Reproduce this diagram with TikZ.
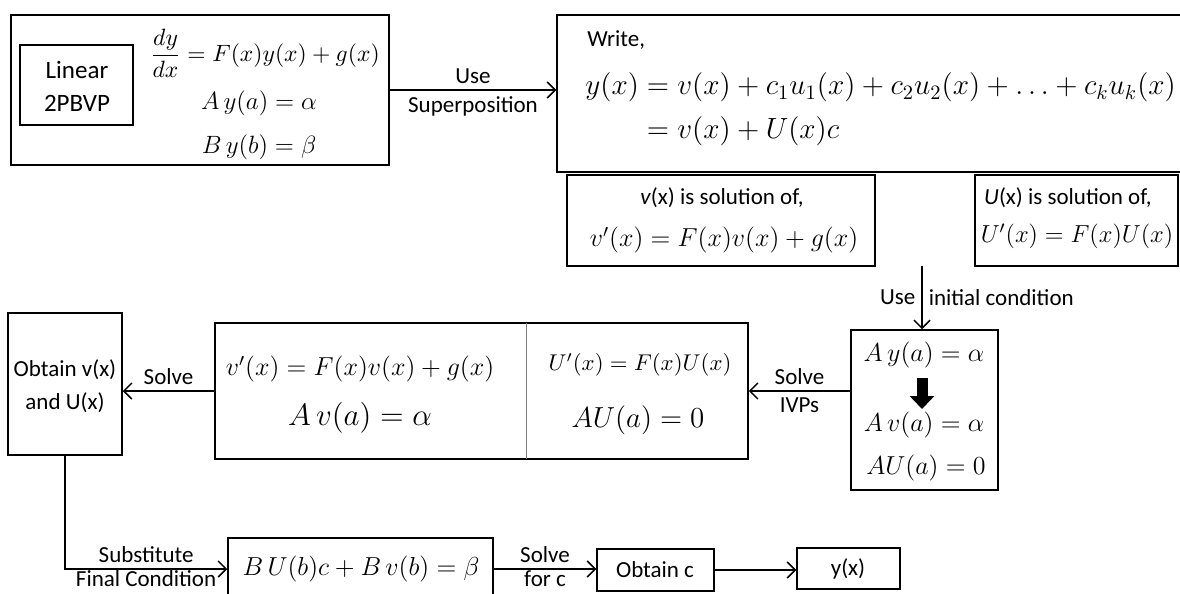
\documentclass[tikz,border=0pt]{standalone}
\usepackage{fix-cm}
\usepackage{amsmath}
\usepackage[no-math]{fontspec}
\setmainfont{Carlito}
\usetikzlibrary{positioning,arrows.meta,fit}
\newcommand{\txtsize}{\fontsize{11.5pt}{16.5pt}\selectfont}
\tikzset{
  box/.style  ={draw, line width=0.75pt, inner sep=0pt},
  txt/.style  ={font=\txtsize, align=center, inner sep=0pt},
  eq/.style   ={inner sep=0pt, font=\fontsize{#1}{#1}\selectfont},
  eq/.default =13pt,
  lbl/.style  ={font=\txtsize, inner sep=3pt},
  arr/.style  ={-{Straight Barb[length=4pt,width=8pt]}, line width=0.75pt},
  bigarr/.style ={-{Triangle[length=6.5pt,width=12pt]}, line width=5.5pt},
}

\begin{document}
\begin{tikzpicture}[x=0.5pt,y=-0.5pt]
\useasboundingbox (0,0) rectangle (1180,594);

% top row: the problem and the superposition
\node[box, fit={(11,15) (389,165)}] (prob) {};
\node[txt, font=\fontsize{12.5pt}{16.5pt}\selectfont] (lintxt) at (77,86) {Linear\\2PBVP};
\node[box, fit={(20,45) (133,125)}] (lintag) {};
\node[eq=11.8pt] (ode) at (265,53) {$\dfrac{dy}{dx} = F(x)y(x)+g(x)$};
\node[eq=12.5pt] (bca) at (259,103) {$A\,y(a)=\alpha$};
\node[eq=12.5pt] (bcb) at (259,147) {$B\,y(b)=\beta$};

\node[box, fit={(557,15) (1190,172)}] (sup) {};
\node[txt, anchor=west] (write) at (587,40) {Write,};
\node[eq=14.6pt, anchor=west] (supeq) at (585,110)
  {\setlength{\jot}{5.5pt}$\begin{aligned} y(x) &= v(x)+c_1u_1(x)+c_2u_2(x)+\ldots+c_ku_k(x)\\ &= v(x)+U(x)c\end{aligned}$};

\node[box, fit={(567,175) (875,266)}] (vsol) {};
\node[txt] (vsoltxt) at (722,198) {\textit{v}(x) is solution of,};
\node[eq] (vsoleq) at (724,240) {$v'(x)=F(x)v(x)+g(x)$};
\node[box, fit={(975,175) (1178,266)}] (usol) {};
\node[txt] (usoltxt) at (1068,198) {\textit{U}(x) is solution of,};
\node[eq=12.3pt] (usoleq) at (1077,236) {$U'(x)=F(x)U(x)$};

% middle row: initial conditions and the IVPs
\coordinate (split) at (922,266);
\node[box, fit={(851,330) (998,490)}] (init) {};
\node[eq] (inita) at (924,355) {$A\,y(a)=\alpha$};
\node[eq] (initb) at (924,425) {$A\,v(a)=\alpha$};
\node[eq] (initc) at (926,468) {$AU(a)=0$};
\draw[bigarr] (922,378) -- (922,409);

\node[box, fit={(215,323) (748,459)}] (ivp) {};
\draw[gray, line width=0.5pt] (526,323) -- (526,459);
\node[eq] (ivpv) at (360,369) {$v'(x)=F(x)v(x)+g(x)$};
\node[eq=15.5pt] (ivpva) at (360,418) {$A\,v(a)=\alpha$};
\node[eq=11.4pt] (ivpu) at (640,365) {$U'(x)=F(x)U(x)$};
\node[eq=14.5pt] (ivpua) at (638,420) {$AU(a)=0$};

\node[box, fit={(8,313) (122,455)}] (obt) {};
\node[txt] (obttxt) at (65,386) {Obtain v(x)\\and U(x)};

% bottom row: final condition
\node[box, fit={(228,538) (493,600)}] (fin) {};
\node[eq] (fineq) at (361,569) {$B\,U(b)c+B\,v(b)=\beta$};
\node[box, fit={(597,549) (714,591)}] (getc) {};
\node[txt] (getctxt) at (655,570) {Obtain c};
\node[box, fit={(797,548) (900,589)}] (yx) {};
\node[txt] (yxtxt) at (848,569) {y(x)};

% connectors
\draw[arr] (prob.east) -- (prob.east -| sup.west)
  node[lbl, midway, above] {Use} node[lbl, midway, below] {Superposition};
\draw[arr] (split) -- (split |- init.north)
  node[lbl, midway, left] {Use} node[lbl, midway, right] {initial condition};
\draw[arr] (init.west |- ivp.east) -- (ivp.east)
  node[lbl, midway, above] {Solve} node[lbl, midway, below] {IVPs};
\draw[arr] (ivp.west) -- (ivp.west -| obt.east)
  node[lbl, midway, above] {Solve};
\draw[arr] (obt.south) |- (fin.west)
  node[lbl, pos=0.75, above] {Substitute} node[lbl, pos=0.75, below, inner sep=0.5pt] {Final Condition};
\draw[arr] (fin.east) -- (fin.east -| getc.west)
  node[lbl, midway, above] {Solve} node[lbl, midway, below, inner sep=0.5pt] {for c};
\draw[arr] (getc.east) -- (getc.east -| yx.west);
\end{tikzpicture}
\end{document}
